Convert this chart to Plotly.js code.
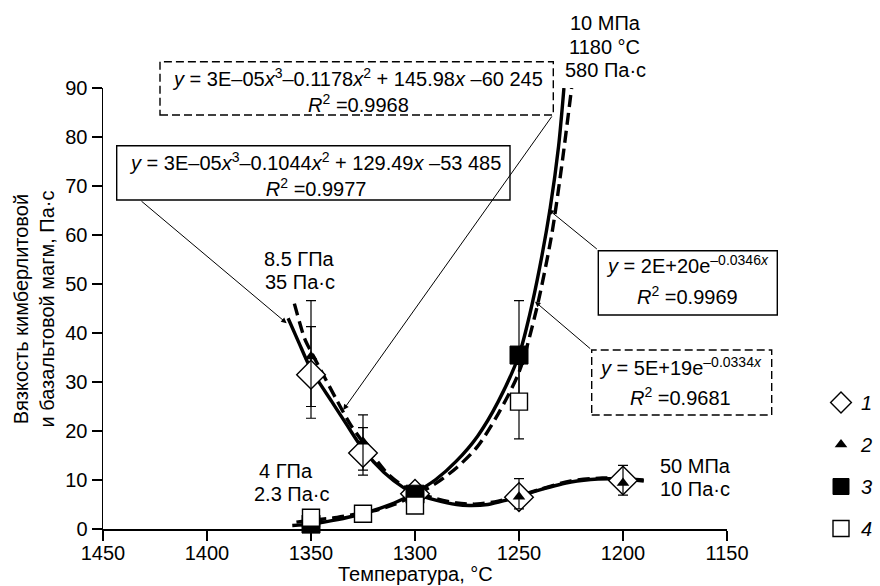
<!DOCTYPE html>
<html>
<head>
<meta charset="utf-8">
<script src="https://cdn.plot.ly/plotly-3.0.1.min.js"></script>
<style>html,body{margin:0;padding:0;background:#fff;}#chart{width:880px;height:586px;}</style>
</head>
<body>
<div id="chart"></div>
<script>
// ---------- data ----------
const xTicks = [1450, 1400, 1350, 1300, 1250, 1200, 1150];
const yTicks = [0, 10, 20, 30, 40, 50, 60, 70, 80, 90];

// 1 – open diamonds
const s1X = [1350, 1325, 1300, 1250, 1200];
const s1Y = [31.5, 15.5, 7.2, 6.5, 9.9];
const s1ErrPlus = [9.8, 5.2, 0, 0, 0];
const s1ErrMinus = [6.5, 3.5, 0, 0, 0];

// 2 – black triangles
const s2X = [1350, 1325, 1300, 1250, 1200];
const s2Y = [35.2, 17.8, 7.5, 6.6, 9.4];
const s2ErrPlus = [11.4, 5.5, 0, 3.7, 3.6];
const s2ErrMinus = [12.6, 6.8, 0, 2.5, 2.5];

// 3 – black squares
const s3X = [1350, 1300, 1250];
const s3Y = [1.0, 7.1, 35.5];
const s3ErrPlus = [0, 0, 11.1];
const s3ErrMinus = [0, 0, 10.5];

// 4 – open squares
const s4X = [1350, 1325, 1300, 1250];
const s4Y = [2.3, 3.1, 4.8, 26.0];
const s4ErrPlus = [0, 0, 0, 7.6];
const s4ErrMinus = [0, 0, 0, 7.6];

// trend curves
const polySolidX = [1361, 1356, 1350, 1340, 1333, 1325, 1315, 1305, 1300, 1290, 1280, 1274, 1265, 1257, 1250, 1240, 1225, 1212, 1200, 1190];
const polySolidY = [43, 38.2, 32.6, 26.0, 21.4, 16.3, 11.6, 8.3, 7.2, 5.9, 5.0, 4.8, 5.0, 5.8, 6.7, 8.0, 9.6, 10.2, 10.2, 9.8];
const polyDashX = [1358, 1353, 1350, 1345, 1338, 1331, 1325, 1313, 1305, 1300, 1290, 1280, 1270, 1260, 1250, 1240, 1225, 1210, 1200, 1190];
const polyDashY = [46, 38.8, 36.2, 32.2, 26.6, 21.3, 17.7, 11.2, 8.6, 7.6, 6.2, 5.3, 5.1, 5.7, 6.8, 8.1, 9.8, 10.4, 10.3, 10.0];
const expSolidX = [1359, 1350, 1340, 1330, 1320, 1310, 1300, 1290, 1280, 1270, 1260, 1250, 1245, 1240, 1235, 1231, 1228.4];
const expSolidY = [0.7, 1.0, 1.7, 2.6, 3.8, 5.3, 7.4, 10.1, 13.9, 18.9, 26.0, 35.5, 43.5, 53.5, 65.5, 78.0, 90];
const expDashX = [1357, 1350, 1340, 1330, 1320, 1310, 1300, 1290, 1280, 1270, 1260, 1250, 1241.5, 1234.3, 1229.5, 1224.7];
const expDashY = [1.4, 1.8, 2.2, 2.9, 3.7, 5.0, 6.9, 9.3, 12.5, 16.8, 23.5, 32.0, 45.0, 60.0, 74.0, 90];

// ---------- helpers ----------
const L = 103, R = 727, T = 88, B = 529;
const W = R - L, H = B - T;
const px = x => (x - L) / W;
const py = y => (B - y) / H;
const FONT = 'Liberation Sans, Arial, sans-serif';

function err(plus, minus) {
  return {type: 'data', symmetric: false, array: plus, arrayminus: minus,
          color: '#000', thickness: 1.2, width: 5};
}
function curve(x, y, dash) {
  return {x: x, y: y, type: 'scatter', mode: 'lines', showlegend: false, hoverinfo: 'skip',
          line: {color: '#000', width: 3.4, dash: dash ? '12px,6px' : 'solid', shape: 'spline', smoothing: 0.8}};
}

const traces = [
  curve(polySolidX, polySolidY, false),
  curve(polyDashX, polyDashY, true),
  curve(expSolidX, expSolidY, false),
  curve(expDashX, expDashY, true),
  {x: s1X, y: s1Y, type: 'scatter', mode: 'markers', name: '<i>1</i>', legendgroup: 'a', cliponaxis: false,
   marker: {symbol: 'diamond', size: 22, color: '#fff', line: {color: '#000', width: 1.4}},
   error_y: err(s1ErrPlus, s1ErrMinus)},
  {x: s2X, y: s2Y, type: 'scatter', mode: 'markers', name: '<i>2</i>', legendgroup: 'b', cliponaxis: false,
   marker: {symbol: 'triangle-up', size: 11, color: '#000', line: {width: 0}},
   error_y: err(s2ErrPlus, s2ErrMinus)},
  {x: s3X, y: s3Y, type: 'scatter', mode: 'markers', name: '<i>3</i>', legendgroup: 'c', cliponaxis: false,
   marker: {symbol: 'square', size: 18, color: '#000', line: {color: '#000', width: 1}},
   error_y: err(s3ErrPlus, s3ErrMinus)},
  {x: s4X, y: s4Y, type: 'scatter', mode: 'markers', name: '<i>4</i>', legendgroup: 'd', cliponaxis: false,
   marker: {symbol: 'square', size: 17, color: '#fff', line: {color: '#000', width: 1.4}},
   error_y: err(s4ErrPlus, s4ErrMinus)}
];

function txt(text, x, y, size, anchor) {
  return {text: text, xref: 'paper', yref: 'paper', x: px(x), y: py(y), showarrow: false,
          xanchor: anchor || 'center', yanchor: 'middle', font: {family: FONT, size: size || 20, color: '#000'}};
}
function arrow(hx, hy, ax, ay) {
  return {text: '', x: hx, y: hy, xref: 'x', yref: 'y', ax: ax, ay: ay, showarrow: true,
          arrowhead: 2, arrowsize: 1.1, arrowwidth: 1, arrowcolor: '#000', standoff: 0};
}
function box(x0, x1, y0, y1, dashed) {
  return {type: 'rect', xref: 'paper', yref: 'paper', x0: px(x0), x1: px(x1), y0: py(y1), y1: py(y0),
          line: {color: '#000', width: 1.4, dash: dashed ? '8px,4px' : 'solid'}, fillcolor: 'rgba(0,0,0,0)', layer: 'above'};
}

const annotations = [
  // equation boxes
  txt('<i>y</i> = 3E–05<i>x</i><sup>3</sup>–0.1178<i>x</i><sup>2</sup> + 145.98<i>x</i> –60 245<br><i>R</i><sup>2</sup> =0.9968', 357.5, 90.5, 20),
  txt('<i>y</i> = 3E–05<i>x</i><sup>3</sup>–0.1044<i>x</i><sup>2</sup> + 129.49<i>x</i> –53 485<br><i>R</i><sup>2</sup> =0.9977', 315, 174.5, 20),
  txt('<i>y</i> = 2E+20e<sup>–0.0346<i>x</i></sup>', 687, 264, 20),
  txt('<i>R</i><sup>2</sup> =0.9969', 687, 295.5, 20),
  txt('<i>y</i> = 5E+19e<sup>–0.0334<i>x</i></sup>', 680, 366, 20),
  txt('<i>R</i><sup>2</sup> =0.9681', 680, 396, 20),
  // labels
  txt('10 МПа', 605, 23), txt('1180 °C', 604, 47), txt('580 Па·с', 605.5, 70.5),
  txt('8.5 ГПа', 299, 258.5), txt('35 Па·с', 300, 282),
  txt('4 ГПа', 286, 470.5), txt('2.3 Па·с', 292, 494),
  txt('50 МПа', 658, 465.5, 20, 'left'), txt('10 Па·с', 658, 489, 20, 'left'),
  // axis titles
  Object.assign(txt('Температура, °C', 415, 573.5), {borderpad: 0}),
  Object.assign(txt('Вязкость кимберлитовой<br>и базальтовой магм, Па·с', 33.5, 309), {textangle: -90}),
  // arrows
  arrow(1361.7, 42.0, -146.7, -123.3),
  arrow(1334.5, 24.3, 209.7, -295),
  arrow(1235.9, 65.2, 50, 40.7),
  arrow(1242.3, 46.4, 56.7, 48.3)
];

const shapes = [
  box(160, 553.3, 61.7, 115, true),
  box(116.7, 510, 145.7, 200, false),
  box(598.3, 777.3, 250.7, 315, false),
  box(591.7, 771.7, 350, 415, true)
];

const axisCommon = {
  showgrid: false, zeroline: false, showline: true, linecolor: '#000', linewidth: 1.5,
  ticks: 'outside', ticklen: 10, tickwidth: 1.5, tickcolor: '#000', automargin: false,
  tickfont: {family: FONT, size: 20, color: '#000'}, tickmode: 'array', fixedrange: true
};

const layout = {
  width: 880, height: 586,
  margin: {l: L, r: 880 - R, t: T, b: 586 - B, pad: 0, autoexpand: false},
  paper_bgcolor: '#fff', plot_bgcolor: '#fff',
  font: {family: FONT, color: '#000', size: 20},
  xaxis: Object.assign({}, axisCommon, {range: [1450, 1150], tickvals: xTicks, ticklabelstandoff: -5}),
  yaxis: Object.assign({}, axisCommon, {range: [0, 90], tickvals: yTicks}),
  showlegend: true,
  legend: {x: px(821), y: py(383), xanchor: 'left', yanchor: 'top', bgcolor: 'rgba(0,0,0,0)',
           font: {family: FONT, size: 20, color: '#000'}, traceorder: 'grouped', tracegroupgap: 13,
           itemsizing: 'trace'},
  annotations: annotations,
  shapes: shapes
};

Plotly.newPlot('chart', traces, layout, {displayModeBar: false, staticPlot: true});
</script>
</body>
</html>
